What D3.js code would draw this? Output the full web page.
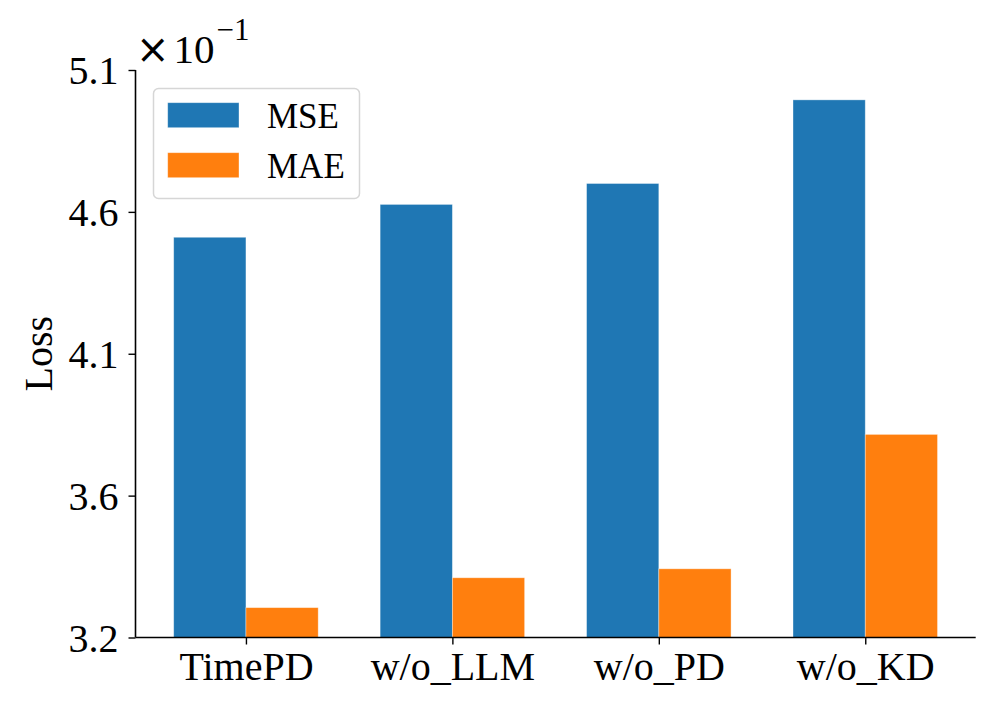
<!DOCTYPE html>
<html>
<head>
<meta charset="utf-8">
<script src="https://cdn.jsdelivr.net/npm/d3@7"></script>
<style>
  body { margin: 0; background: #fff; }
  text { font-family: "Liberation Serif", "Times New Roman", serif; fill: #000; }
</style>
</head>
<body>
<div id="chart"></div>
<script>
// values in units of 1e-1
var categories = ["TimePD", "w/o_LLM", "w/o_PD", "w/o_KD"];
var mseValues = [4.54, 4.65, 4.72, 5.00];
var maeValues = [3.30, 3.40, 3.43, 3.88];
var seriesNames = ["MSE", "MAE"];
var seriesColors = ["#1f77b4", "#ff7f0e"];
var yTickValues = [3.2, 3.675, 4.15, 4.625, 5.1];
var yTickLabels = ["3.2", "3.6", "4.1", "4.6", "5.1"];

var width = 997, height = 712;
var mLeft = 135.5, mRight = 975.7, mTop = 70, mBottom = 637.5;
var barW = 0.35;

var svg = d3.select("#chart").append("svg")
    .attr("width", width)
    .attr("height", height);

var x = d3.scaleLinear()
    .domain([-0.535, 3.535])
    .range([mLeft, mRight]);

var y = d3.scaleLinear()
    .domain([3.2, 5.1])
    .range([mBottom, mTop]);

var series = [mseValues, maeValues];

// bars
series.forEach(function (vals, s) {
  var off = s == 0 ? -barW / 2 : barW / 2;
  svg.append("g").selectAll("rect")
    .data(vals)
    .enter()
    .append("rect")
    .attr("x", (d, i) => x(i + off - barW / 2))
    .attr("width", x(barW) - x(0))
    .attr("y", d => y(d))
    .attr("height", d => y(3.2) - y(d))
    .attr("fill", seriesColors[s])
    .attr("stroke", "#fff")
    .attr("stroke-opacity", 0.45)
    .attr("stroke-width", 0.8);
});

// y axis
var yAxis = svg.append("g")
    .attr("transform", "translate(" + mLeft + ",0)")
    .call(d3.axisLeft(y)
      .tickValues(yTickValues)
      .tickFormat((d, i) => yTickLabels[i])
      .tickSize(7)
      .tickPadding(10));

// x axis
var xAxis = svg.append("g")
    .attr("transform", "translate(0," + mBottom + ")")
    .call(d3.axisBottom(x)
      .tickValues(d3.range(categories.length))
      .tickFormat(i => categories[i])
      .tickSize(7)
      .tickPadding(7));

[yAxis, xAxis].forEach(function (ax) {
  ax.select(".domain").attr("stroke", "#000").attr("stroke-width", 1.6);
  ax.selectAll(".tick line").attr("stroke", "#000").attr("stroke-width", 1.4);
  ax.selectAll(".tick text")
    .style("font-family", "Liberation Serif")
    .style("font-size", "40px")
    .attr("fill", "#000");
});
// matplotlib-style domain without end caps
yAxis.select(".domain").attr("d", "M0," + mBottom + "V" + mTop);
xAxis.select(".domain").attr("d", "M" + mLeft + ",0H" + mRight);
yAxis.selectAll(".tick text").attr("dy", "0.34em");

// y label
svg.append("text")
    .attr("transform", "translate(52," + ((mTop + mBottom) / 2) + ") rotate(-90)")
    .attr("text-anchor", "middle")
    .style("font-size", "40px")
    .text("Loss");

// offset text (x10^-1)
var offTxt = svg.append("text")
    .attr("x", 136)
    .attr("y", 63);
offTxt.append("tspan")
    .style("font-family", "DejaVu Sans")
    .style("font-size", "40px")
    .text("\u00d7");
offTxt.append("tspan")
    .attr("dx", 4)
    .style("font-size", "41px")
    .text("10");
offTxt.append("tspan")
    .attr("dx", 2)
    .attr("dy", -23)
    .style("font-size", "31px")
    .text("\u22121");

// legend
var lg = svg.append("g");
lg.append("rect")
    .attr("x", 153.5).attr("y", 88.5)
    .attr("width", 206).attr("height", 110)
    .attr("rx", 5)
    .attr("fill", "#fff")
    .attr("fill-opacity", 0.8)
    .attr("stroke", "#d6d6d6")
    .attr("stroke-width", 1.5);
seriesNames.forEach(function (name, s) {
  var yy = 102.7 + s * 50;
  lg.append("rect")
    .attr("x", 167.7).attr("y", yy)
    .attr("width", 71.3).attr("height", 25)
    .attr("fill", seriesColors[s])
    .attr("stroke", "#fff")
    .attr("stroke-opacity", 0.45)
    .attr("stroke-width", 0.8);
  lg.append("text")
    .attr("x", 267)
    .attr("y", yy + 25)
    .style("font-size", "35px")
    .text(name);
});
</script>
</body>
</html>
